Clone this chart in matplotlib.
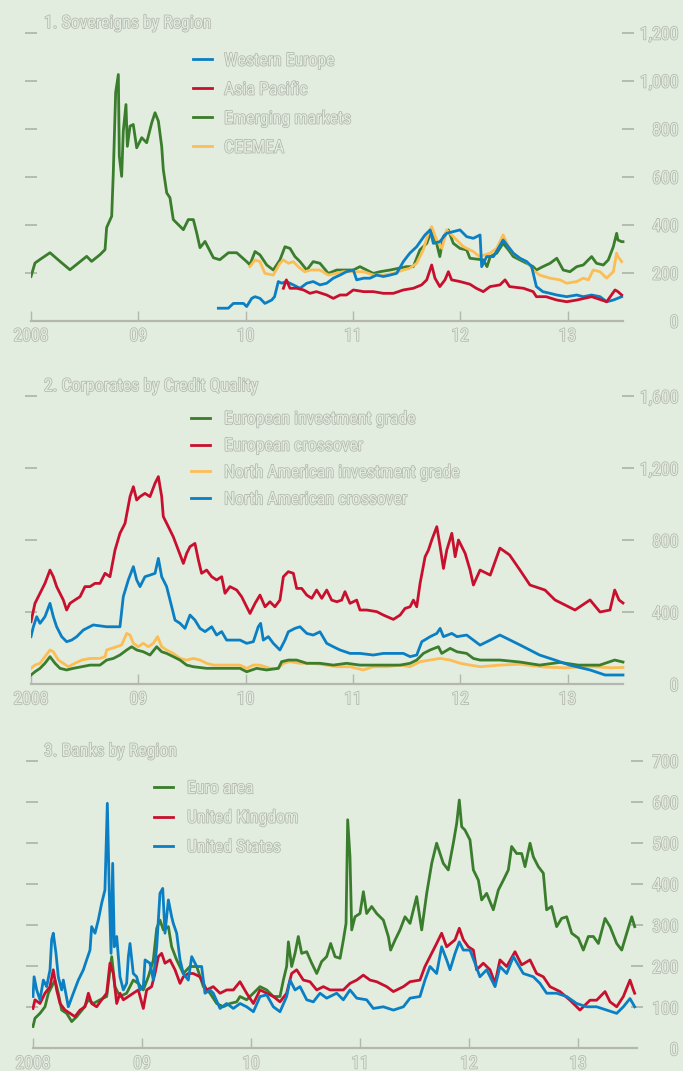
import numpy as np
import matplotlib.pyplot as plt
import matplotlib.patheffects as pe
import matplotlib.font_manager as fm

# pick a narrow face if one is installed, else plain Liberation Sans a bit smaller
narrow = None
for key in ['LiberationSansNarrow-Regular', 'RobotoCondensed-Regular', 'OpenSansCondensed',
            'DejaVuSansCondensed.ttf', 'Roboto_Condensed-Regular', 'OpenSans_Condensed-Regular']:
    for f in fm.fontManager.ttflist:
        if key in f.fname and 'Bold' not in f.fname and 'Italic' not in f.fname:
            narrow = f
            break
    if narrow:
        break
if narrow:
    plt.rcParams['font.family'] = [narrow.name, 'DejaVu Sans']
    plt.rcParams['font.stretch'] = narrow.stretch
    FS = 12.8
else:
    plt.rcParams['font.family'] = ['Liberation Sans', 'DejaVu Sans']
    FS = 12.0

BG = '#e2ecdf'
GRAY = '#b3b7ad'
BLUE = '#0a7fc4'
RED = '#c8102e'
GREEN = '#3a7d2c'
YELLOW = '#fdbd55'
W, H = 683, 1071

# ---- panel 1: sovereigns (years since 2008, bp) ----
we_t = [1.746,1.839,1.886,1.98,2.01,2.057,2.088,2.134,2.18,2.243,2.27,2.305,2.336,2.38,2.445,2.507,2.57,2.63,2.693,2.756,
        2.817,2.88,2.94,3.004,3.035,3.1,3.16,3.22,3.284,3.346,3.408,3.47,3.53,3.594,3.672,3.72,3.75,3.81,3.874,3.936,
        3.998,4.06,4.122,4.185,4.2,4.247,4.31,4.4,4.495,4.557,4.62,4.666,4.71,4.77,4.837,4.9,4.993,5.086,5.147,5.225,
        5.303,5.365,5.427,5.505]
we_v = [52,52,72,72,59,93,100,93,72,86,100,163,156,163,149,135,156,163,149,156,
        177,190,204,211,170,177,177,190,184,190,197,246,281,308,357,378,322,329,364,371,
        378,350,343,357,225,267,267,336,281,260,246,225,142,121,114,107,100,107,100,107,
        100,79,86,100]
ap_t = [2.352,2.38,2.414,2.476,2.54,2.6,2.66,2.756,2.817,2.88,2.94,3.004,3.1,3.19,3.284,3.377,3.47,3.563,3.64,3.688,
        3.734,3.765,3.81,3.858,3.89,3.92,3.998,4.09,4.15,4.215,4.278,4.37,4.418,4.46,4.59,4.68,4.71,4.8,4.9,4.993,
        5.086,5.225,5.365,5.443,5.47,5.505]
ap_v = [135,170,135,135,128,114,121,107,93,107,107,128,121,121,114,114,128,135,149,170,
        232,177,142,170,204,170,163,152,135,121,142,149,170,142,135,121,100,100,86,79,
        86,100,79,128,121,107]
em_t = [0,.037,.084,.177,.27,.363,.519,.565,.643,.69,.705,.752,.767,.789,.814,.823,.845,.86,.885,.898,
        .923,.953,.985,1.032,1.078,1.125,1.156,1.187,1.218,1.233,1.265,1.295,1.326,1.373,1.42,1.466,1.513,1.544,1.575,1.622,
        1.7,1.76,1.84,1.917,2.01,2.04,2.088,2.134,2.197,2.258,2.32,2.367,2.414,2.46,2.507,2.57,2.63,2.693,2.771,2.849,
        3.004,3.066,3.19,3.253,3.346,3.5,3.563,3.625,3.688,3.734,3.78,3.81,3.843,3.89,3.936,3.998,4.06,4.091,4.215,4.25,
        4.28,4.34,4.4,4.45,4.495,4.557,4.62,4.68,4.71,4.77,4.837,4.9,4.96,5.023,5.086,5.147,5.225,5.27,5.334,5.38,
        5.427,5.458,5.47,5.505,5.517]
em_v = [184,240,255,283,247,212,268,247,275,296,388,435,616,950,1025,685,601,789,900,726,
        810,817,720,762,741,824,866,831,726,629,532,512,421,400,379,421,421,366,304,330,
        262,254,283,283,246,233,288,274,232,211,253,308,301,267,246,211,246,239,197,211,
        211,225,197,204,211,225,225,295,322,378,322,267,350,378,322,301,295,260,253,225,
        267,281,322,295,267,253,239,225,211,225,239,260,211,204,225,232,267,239,232,253,
        308,364,336,329,329]
ce_t = [2.04,2.088,2.134,2.18,2.258,2.32,2.35,2.4,2.445,2.49,2.55,2.61,2.693,2.771,2.849,2.91,3.004,3.1,3.19,3.284,
        3.377,3.47,3.53,3.594,3.656,3.703,3.734,3.78,3.83,3.874,3.936,3.998,4.03,4.122,4.18,4.278,4.34,4.4,4.45,4.495,
        4.557,4.62,4.68,4.74,4.837,4.93,4.993,5.086,5.147,5.195,5.24,5.303,5.365,5.427,5.458,5.47,5.505]
ce_v = [225,253,246,197,190,239,253,239,246,225,204,211,211,190,197,204,204,204,190,190,
        197,211,218,239,295,364,392,336,301,378,350,322,308,288,267,281,301,357,308,281,
        260,246,211,190,177,170,156,163,177,170,211,204,177,204,281,267,246]

# ---- panel 2: corporates ----
ec_t = [0,.037,.084,.13,.177,.208,.239,.27,.301,.332,.363,.41,.457,.503,.55,.596,.643,.69,.736,.783,
        .829,.876,.923,.954,.985,1.016,1.062,1.109,1.156,1.187,1.218,1.233,1.28,1.326,1.373,1.42,1.451,1.482,1.528,1.56,
        1.59,1.637,1.684,1.73,1.777,1.808,1.854,1.917,1.963,2.041,2.088,2.134,2.181,2.227,2.273,2.32,2.352,2.398,2.445,2.476,
        2.523,2.57,2.616,2.662,2.71,2.756,2.802,2.85,2.895,2.926,2.973,3.035,3.066,3.128,3.222,3.284,3.377,3.44,3.486,3.533,
        3.564,3.595,3.626,3.673,3.704,3.735,3.782,3.813,3.844,3.875,3.922,3.953,3.984,4.046,4.092,4.123,4.185,4.28,4.37,4.46,
        4.557,4.65,4.79,4.883,4.977,5.07,5.21,5.303,5.396,5.44,5.48,5.517]
ec_v = [346,448,504,559,633,596,541,504,467,411,448,467,485,541,541,559,559,615,596,744,
        837,892,1041,1096,1022,1041,1059,1041,1115,1152,1041,930,874,818,744,670,726,763,781,689,
        615,633,596,578,596,504,541,522,485,392,448,494,429,457,429,466,596,624,615,531,
        531,494,476,522,476,522,466,457,466,513,448,466,411,411,402,383,359,383,420,429,
        466,429,559,707,744,800,874,763,642,744,837,707,800,726,633,550,633,605,755,717,
        633,550,522,467,439,411,467,400,411,522,467,450]
nc_t = [0,.022,.053,.084,.13,.177,.208,.239,.286,.332,.379,.426,.488,.58,.705,.829,.86,.907,.954,.985,
        1.016,1.062,1.109,1.156,1.187,1.218,1.264,1.311,1.342,1.389,1.435,1.482,1.528,1.575,1.622,1.684,1.73,1.777,1.823,1.9,
        1.948,2.01,2.072,2.118,2.14,2.165,2.212,2.258,2.32,2.367,2.398,2.46,2.507,2.57,2.63,2.693,2.756,2.817,2.88,2.973,
        3.066,3.19,3.284,3.377,3.47,3.533,3.595,3.642,3.72,3.782,3.813,3.844,3.922,3.97,4.06,4.123,4.185,4.28,4.37,4.557,
        4.74,4.883,5.02,5.21,5.35,5.517]
nc_v = [263,318,374,337,374,448,374,318,263,235,244,263,300,328,318,318,485,578,652,578,
        541,596,605,615,698,596,541,430,355,337,309,383,355,309,291,318,272,291,244,244,
        244,226,235,318,337,244,263,226,189,244,290,309,318,281,272,290,226,207,189,170,
        170,161,170,170,170,152,161,235,263,281,309,263,281,263,272,244,216,244,272,217,
        161,133,105,78,50,50]
ni_t = [0,.037,.084,.13,.177,.208,.255,.301,.348,.41,.473,.55,.643,.69,.705,.752,.798,.845,.892,.923,
        .954,1.0,1.047,1.093,1.14,1.18,1.218,1.264,1.326,1.389,1.451,1.513,1.575,1.637,1.7,1.823,1.948,2.01,2.072,2.134,
        2.227,2.305,2.352,2.414,2.507,2.63,2.756,2.85,2.973,3.097,3.19,3.315,3.44,3.533,3.626,3.72,3.813,3.906,4.0,4.092,
        4.185,4.37,4.557,4.79,4.977,5.21,5.4,5.517]
ni_v = [87,105,115,152,189,179,133,115,96,115,133,142,142,152,189,198,207,217,281,272,
        226,207,226,207,226,263,207,189,170,142,133,142,133,115,105,105,105,87,105,105,
        87,87,115,124,115,115,105,96,96,78,96,96,105,96,124,133,142,133,115,105,
        96,105,110,94,90,98,90,92]
ei_t = [0,.037,.084,.13,.177,.224,.27,.332,.394,.473,.55,.643,.705,.767,.829,.892,.938,.985,1.047,1.109,
        1.171,1.218,1.264,1.326,1.389,1.451,1.513,1.637,1.823,1.948,2.01,2.103,2.196,2.305,2.336,2.398,2.476,2.57,2.693,2.817,
        2.942,3.066,3.253,3.44,3.533,3.595,3.657,3.72,3.797,3.828,3.906,3.97,4.06,4.123,4.185,4.37,4.557,4.74,4.93,5.1,
        5.3,5.44,5.517]
ei_v = [50,68,87,115,152,115,87,78,87,96,105,105,133,142,161,189,207,189,179,161,
        207,179,170,152,133,105,96,87,87,87,68,87,78,87,124,133,133,115,115,105,
        115,105,105,105,115,133,170,189,207,170,198,179,170,142,133,133,122,105,120,105,
        105,133,122]

# ---- panel 3: banks ----
us_t = [0,.01,.034,.064,.095,.125,.156,.171,.186,.211,.232,.263,.278,.324,.37,.416,.462,.492,.523,.538,
        .569,.599,.63,.66,.682,.7,.716,.731,.746,.768,.798,.829,.859,.875,.89,.92,.951,.982,1.012,1.028,
        1.073,1.104,1.135,1.165,1.19,1.211,1.242,1.272,1.287,1.318,1.349,1.379,1.425,1.456,1.502,1.547,1.578,1.624,1.654,1.716,
        1.777,1.838,1.9,1.96,2.022,2.083,2.144,2.205,2.266,2.327,2.358,2.404,2.45,2.511,2.572,2.633,2.694,2.786,2.847,2.908,
        2.97,3.061,3.122,3.214,3.306,3.398,3.459,3.55,3.596,3.642,3.703,3.749,3.795,3.826,3.872,3.911,3.948,4.009,4.055,4.1,
        4.162,4.239,4.284,4.346,4.407,4.498,4.59,4.651,4.712,4.804,4.896,4.988,5.08,5.171,5.263,5.355,5.416,5.477,5.52]
us_v = [126,174,142,118,166,150,191,264,280,231,174,142,166,101,134,166,191,215,239,296,
        280,312,353,385,596,377,231,450,247,272,174,142,158,223,255,182,174,142,150,215,
        207,166,247,377,389,280,361,320,304,280,215,182,166,223,199,199,134,142,134,97,
        109,97,109,101,89,126,130,101,89,126,166,142,150,118,113,134,122,134,118,142,
        122,118,97,101,93,101,122,126,166,199,182,247,215,191,231,259,239,239,207,174,
        191,150,199,182,223,182,174,158,134,134,126,109,101,101,93,85,101,121,101]
uk_t = [0,.018,.064,.11,.156,.186,.217,.248,.294,.34,.385,.431,.477,.508,.538,.584,.63,.676,.706,.737,
        .768,.798,.829,.875,.92,.966,1.012,1.043,1.088,1.119,1.15,1.18,1.211,1.257,1.303,1.349,1.379,1.425,1.471,1.532,
        1.593,1.654,1.716,1.777,1.838,1.899,1.96,2.022,2.083,2.144,2.205,2.266,2.327,2.373,2.419,2.48,2.541,2.603,2.664,2.725,
        2.786,2.847,2.908,2.97,3.03,3.092,3.153,3.245,3.306,3.398,3.459,3.55,3.596,3.642,3.703,3.749,3.795,3.872,3.911,3.948,
        3.994,4.04,4.07,4.131,4.193,4.239,4.284,4.346,4.422,4.483,4.56,4.62,4.682,4.743,4.835,4.927,5.018,5.11,5.171,5.248,
        5.294,5.355,5.416,5.477,5.508,5.52]
uk_v = [97,118,109,134,150,191,142,109,93,85,77,93,101,134,109,101,118,134,207,182,
        109,134,118,126,134,142,97,142,150,182,223,231,207,215,191,158,174,182,182,174,
        142,150,134,142,142,162,134,109,142,134,126,113,134,182,191,166,162,142,150,142,
        142,142,158,166,178,166,162,150,138,150,162,166,199,223,255,280,247,264,292,264,
        247,239,191,207,191,158,215,199,235,203,215,182,174,150,138,117,93,117,117,138,
        113,101,126,166,142,134]
ea_t = [0,.018,.064,.11,.141,.171,.202,.232,.263,.309,.355,.401,.462,.508,.553,.615,.676,.722,.752,.798,
        .859,.92,.966,1.012,1.058,1.104,1.135,1.165,1.196,1.242,1.272,1.318,1.379,1.44,1.502,1.563,1.624,1.685,1.746,1.807,
        1.869,1.899,1.96,2.022,2.083,2.144,2.205,2.266,2.297,2.327,2.343,2.373,2.404,2.434,2.465,2.511,2.557,2.603,2.648,2.694,
        2.731,2.771,2.817,2.847,2.872,2.887,2.908,2.924,2.954,3.0,3.031,3.061,3.107,3.153,3.214,3.26,3.281,3.321,3.367,3.413,
        3.459,3.52,3.566,3.612,3.658,3.703,3.734,3.764,3.81,3.856,3.887,3.911,3.933,3.963,4.009,4.04,4.086,4.116,4.162,4.223,
        4.269,4.315,4.361,4.391,4.437,4.483,4.514,4.56,4.59,4.636,4.682,4.712,4.758,4.804,4.85,4.896,4.942,5.003,5.049,5.095,
        5.141,5.187,5.248,5.294,5.355,5.401,5.447,5.493,5.52]
ea_v = [53,73,85,101,134,150,166,134,93,85,65,77,97,118,109,118,126,223,150,126,
        134,166,158,142,174,215,292,312,288,296,247,215,182,199,199,150,134,109,101,109,
        113,126,118,134,150,142,126,126,166,199,259,199,231,272,231,235,207,182,211,223,
        255,223,219,263,304,556,466,288,320,328,381,328,345,328,312,272,239,263,288,320,
        304,369,288,377,450,499,474,450,434,499,547,604,539,531,507,434,409,361,377,337,
        385,409,434,491,474,474,442,499,466,442,426,337,345,296,316,320,280,268,239,272,
        272,255,316,296,255,239,280,320,296]

year_labels = ['2008', '09', '10', '11', '12', '13']

outline = [pe.Stroke(linewidth=1.1, foreground=GRAY), pe.Normal()]
FS_PX = FS / 0.72


def hollow(t):
    t.set_color(BG)
    t.set_path_effects(outline)


fig = plt.figure(figsize=(W / 100, H / 100), dpi=100, facecolor=BG)


def make_panel(top, bottom, left, right, x2008, yearpx, base_end, ymax, ystep, title, title_y):
    ax = fig.add_axes([left / W, 1 - bottom / H, (right - left) / W, (bottom - top) / H])
    ax.set_facecolor('none')
    ax.set_xlim(2008 + (left - x2008) / yearpx, 2008 + (right - x2008) / yearpx)
    ax.set_ylim(0, ymax)
    for s in ['left', 'right', 'top']:
        ax.spines[s].set_visible(False)
    sp = ax.spines['bottom']
    sp.set_color(GRAY)
    sp.set_linewidth(1.6)
    sp.set_bounds(2008, 2008 + (base_end - x2008) / yearpx)
    ax.set_xticks(range(2008, 2014))
    ax.set_xticklabels(year_labels)
    ax.tick_params(axis='x', direction='in', length=7.2, width=1.0, color=GRAY, pad=4.5, labelsize=FS)
    yt = np.arange(0, ymax + 1, ystep)
    ax.set_yticks(yt)
    ax.set_yticklabels([f'{v:,}' for v in yt])
    ax.tick_params(axis='y', direction='inout', length=8.6, width=1.3, color=GRAY,
                   left=True, right=True, labelleft=False, labelright=True,
                   pad=(678 - right - 5.5) * 0.72, labelsize=FS)
    ticks = ax.yaxis.get_major_ticks()
    for tk in ticks:
        tk.label2.set_horizontalalignment('right')
        hollow(tk.label2)
    ticks[0].tick1line.set_visible(False)
    ticks[0].tick2line.set_visible(False)
    for tk in ax.xaxis.get_major_ticks():
        hollow(tk.label1)
    txt = fig.text(44 / W, 1 - title_y / H, title, fontsize=FS, va='baseline', ha='left')
    hollow(txt)
    return ax


def add_legend(ax, handles, labels, x, first_row, pitch, textpad):
    th = 0.944 * FS_PX
    leg = ax.legend(handles, labels, loc='upper left',
                    bbox_to_anchor=(x / W, 1 - (first_row - th / 2) / H),
                    bbox_transform=fig.transFigure, frameon=False, fontsize=FS,
                    handlelength=19 / FS_PX, handletextpad=textpad / FS_PX,
                    labelspacing=(pitch - th) / FS_PX, borderpad=0, borderaxespad=0)
    for t in leg.get_texts():
        hollow(t)


def line(ax, t, v, c):
    return ax.plot(2008 + np.array(t), v, color=c, lw=2.0, solid_joinstyle='round')[0]


# panel 1
ax1 = make_panel(32.5, 320.7, 31, 627.5, 31, 107.3, 623, 1200, 200, '1. Sovereigns by Region', 28)
h_em = line(ax1, em_t, em_v, GREEN)
h_ce = line(ax1, ce_t, ce_v, YELLOW)
h_we = line(ax1, we_t, we_v, BLUE)
h_ap = line(ax1, ap_t, ap_v, RED)
add_legend(ax1, [h_we, h_ap, h_em, h_ce], ['Western Europe', 'Asia Pacific', 'Emerging markets', 'CEEMEA'],
           193, 60, 27.8, 12)

# panel 2
ax2 = make_panel(396, 684, 31, 627.5, 31, 107.3, 623, 1600, 400, '2. Corporates by Credit Quality', 391)
h_ni = line(ax2, ni_t, ni_v, YELLOW)
h_ei = line(ax2, ei_t, ei_v, GREEN)
h_nc = line(ax2, nc_t, nc_v, BLUE)
h_ec = line(ax2, ec_t, ec_v, RED)
add_legend(ax2, [h_ei, h_ec, h_ni, h_nc],
           ['European investment grade', 'European crossover', 'North American investment grade',
            'North American crossover'], 191, 418.3, 25.6, 14)

# panel 3
ax3 = make_panel(760.6, 1048.3, 31.5, 637.2, 33, 109, 636.7, 700, 100, '3. Banks by Region', 756)
h_ea = line(ax3, ea_t, ea_v, GREEN)
h_uk = line(ax3, uk_t, uk_v, RED)
h_us = line(ax3, us_t, us_v, BLUE)
add_legend(ax3, [h_ea, h_uk, h_us], ['Euro area', 'United Kingdom', 'United States'],
           154, 787.7, 28.2, 14)

fig.savefig('out.png', dpi=100, facecolor=BG)
